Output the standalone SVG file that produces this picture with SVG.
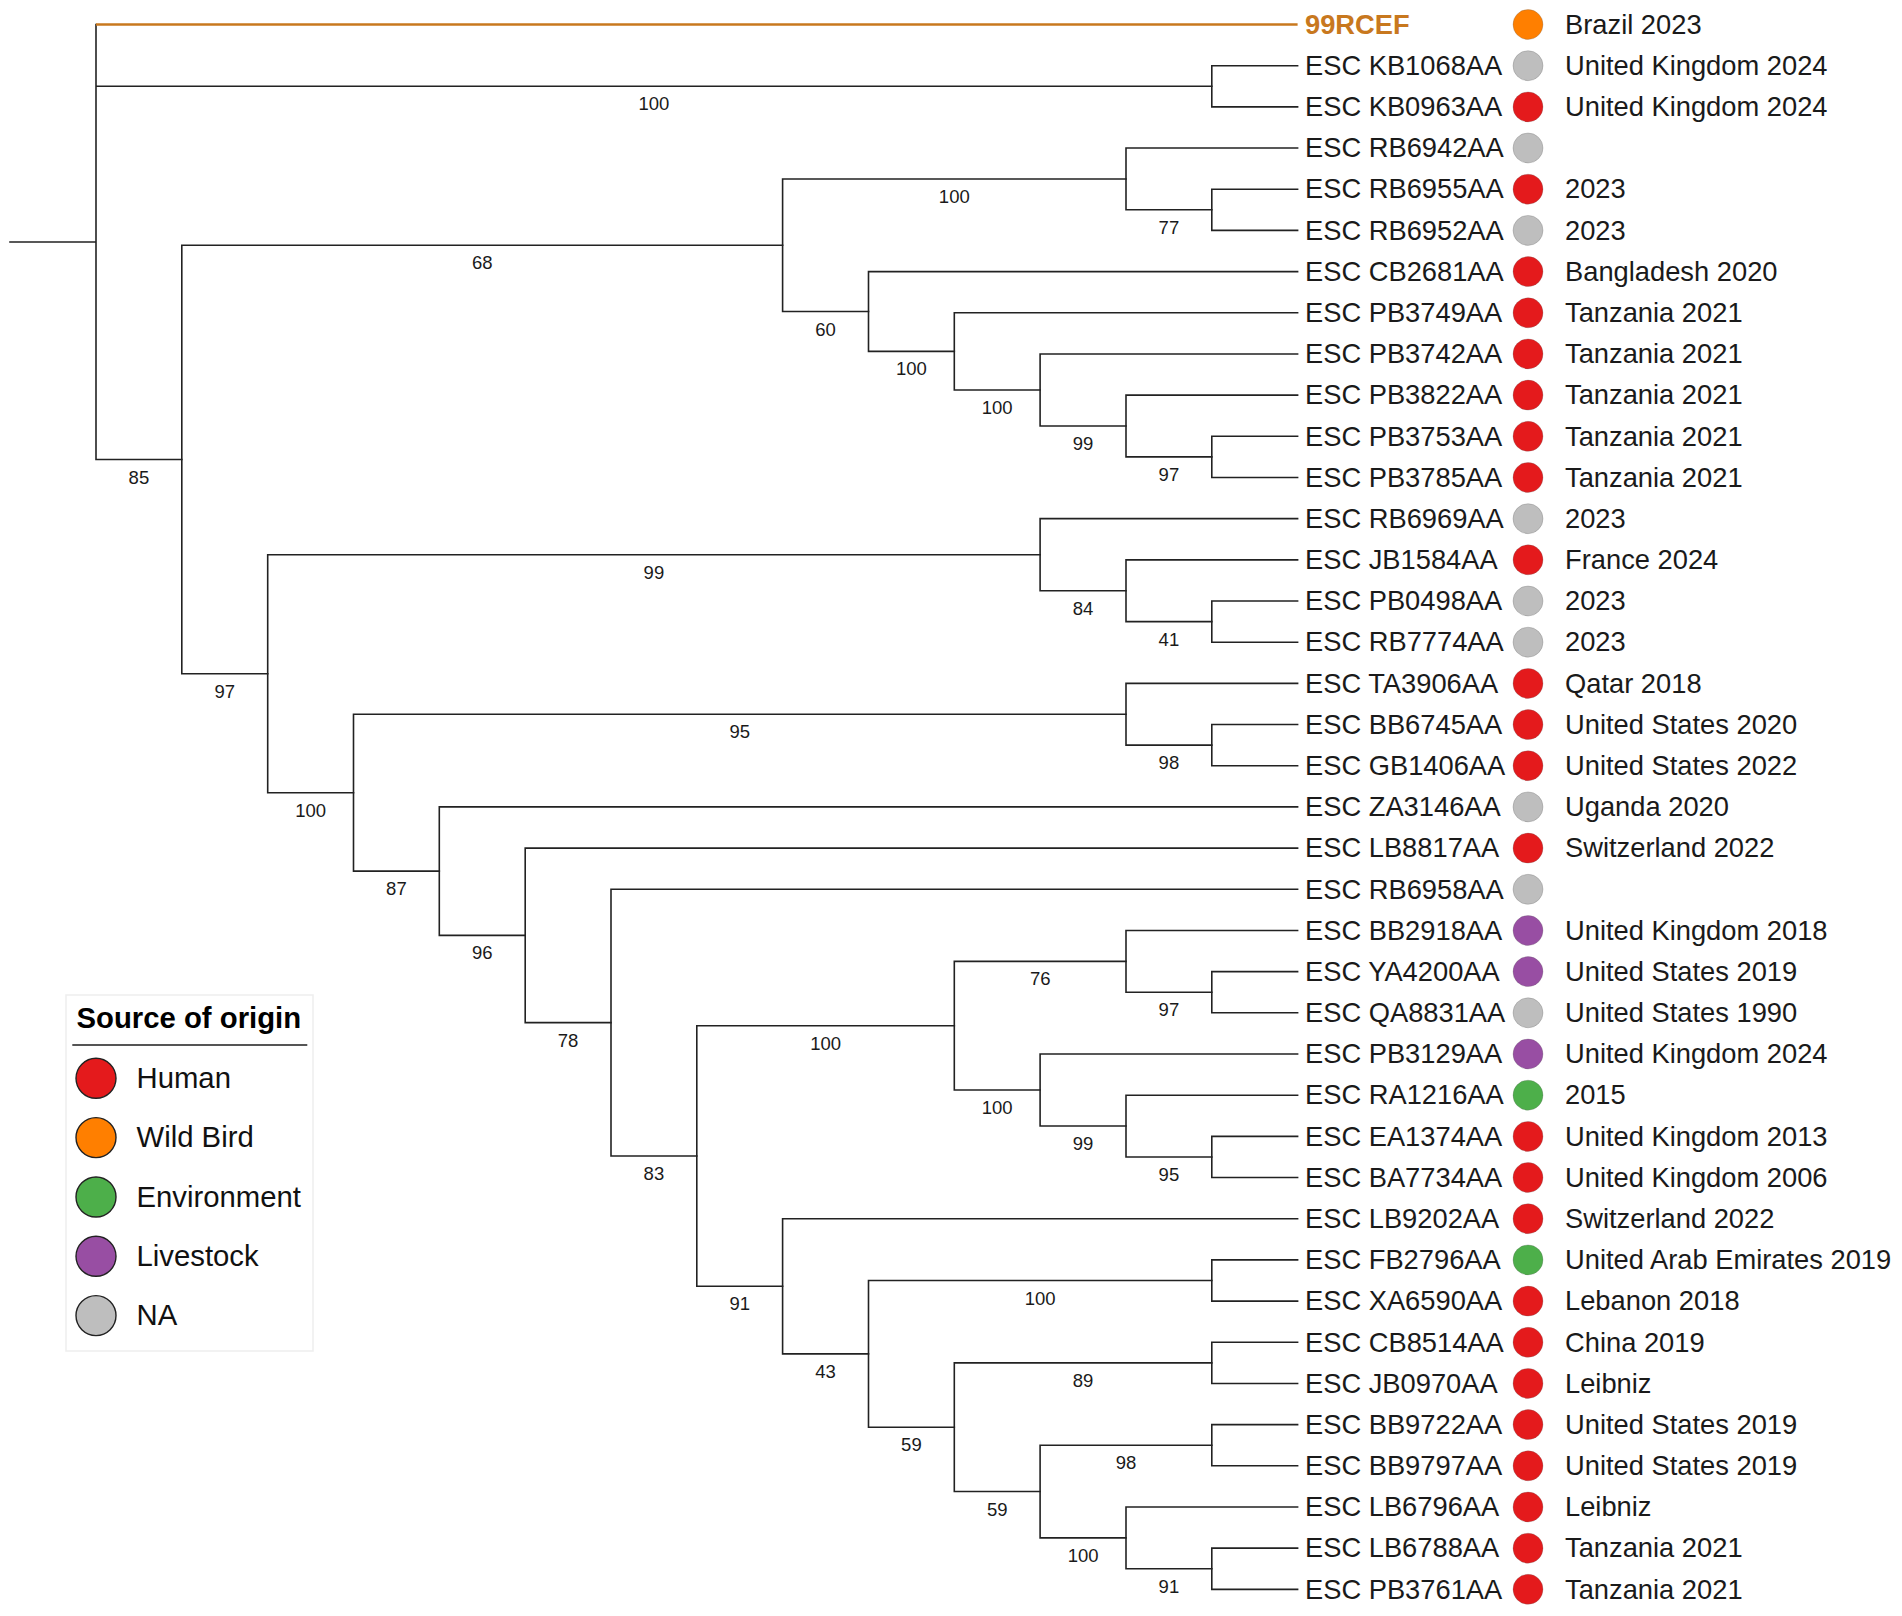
<svg xmlns="http://www.w3.org/2000/svg" width="1902" height="1616" viewBox="0 0 1902 1616">
<style>
.br{fill:none;stroke:#222;stroke-width:1.6;stroke-linecap:square}
.hl{fill:none;stroke:#C8781E;stroke-width:2.4}
.lf{font-family:"Liberation Sans",Arial,sans-serif;font-size:27.3px;fill:#1a1a1a}
.hi{font-family:"Liberation Sans",Arial,sans-serif;font-size:27.3px;font-weight:bold;fill:#C8781E}
.bs{font-family:"Liberation Sans",Arial,sans-serif;font-size:18.5px;fill:#1a1a1a;text-anchor:middle}
.lg{font-family:"Liberation Sans",Arial,sans-serif;font-size:29.3px;fill:#111}
.lt{font-family:"Liberation Sans",Arial,sans-serif;font-size:29.3px;font-weight:bold;fill:#000}
.hu{fill:#E41A1C}.wb{fill:#FF7F00}.en{fill:#4DAF4A}.li{fill:#984EA3}.na{fill:#BEBEBE}
.dot{stroke-width:0.8;stroke-opacity:0.35;stroke:#666}
.ld{stroke:#222;stroke-width:1.4}
.rw{transform:translateY(-0.8px)}
</style>
<rect width="1902" height="1616" fill="#fff"/>
<g id="connectors">
<path class="br" d="M10 242 H96 M96 24.5 V459.45 M96 86.27 H1211.8 M96 459.45 H181.8"/>
<path class="hl" d="M96 24.5 H1297.6"/>
<path class="br" d="M1297.6 65.68 H1211.8 V106.86 H1297.6"/>
<path class="br" d="M782.6 245.2 H181.8 V673.7 H267.7"/>
<path class="br" d="M1126 178.93 H782.6 V311.47 H868.5"/>
<path class="br" d="M1297.6 148.04 H1126 V209.81 H1211.8"/>
<path class="br" d="M1297.6 189.22 H1211.8 V230.4 H1297.6"/>
<path class="br" d="M1297.6 271.58 H868.5 V351.37 H954.3"/>
<path class="br" d="M1297.6 312.76 H954.3 V389.97 H1040.1"/>
<path class="br" d="M1297.6 353.94 H1040.1 V426 H1126"/>
<path class="br" d="M1297.6 395.12 H1126 V456.89 H1211.8"/>
<path class="br" d="M1297.6 436.3 H1211.8 V477.48 H1297.6"/>
<path class="br" d="M1040.1 554.69 H267.7 V792.7 H353.5"/>
<path class="br" d="M1297.6 518.66 H1040.1 V590.73 H1126"/>
<path class="br" d="M1297.6 559.84 H1126 V621.61 H1211.8"/>
<path class="br" d="M1297.6 601.02 H1211.8 V642.2 H1297.6"/>
<path class="br" d="M1126 714.26 H353.5 V871.14 H439.3"/>
<path class="br" d="M1297.6 683.38 H1126 V745.15 H1211.8"/>
<path class="br" d="M1297.6 724.56 H1211.8 V765.74 H1297.6"/>
<path class="br" d="M1297.6 806.92 H439.3 V935.37 H525.2"/>
<path class="br" d="M1297.6 848.1 H525.2 V1022.63 H611"/>
<path class="br" d="M1297.6 889.28 H611 V1155.99 H696.8"/>
<path class="br" d="M954.3 1025.69 H696.8 V1286.28 H782.6"/>
<path class="br" d="M1126 961.35 H954.3 V1090.03 H1040.1"/>
<path class="br" d="M1297.6 930.46 H1126 V992.23 H1211.8"/>
<path class="br" d="M1297.6 971.64 H1211.8 V1012.82 H1297.6"/>
<path class="br" d="M1297.6 1054 H1040.1 V1126.07 H1126"/>
<path class="br" d="M1297.6 1095.18 H1126 V1156.95 H1211.8"/>
<path class="br" d="M1297.6 1136.36 H1211.8 V1177.54 H1297.6"/>
<path class="br" d="M1297.6 1218.72 H782.6 V1353.84 H868.5"/>
<path class="br" d="M1211.8 1280.49 H868.5 V1427.2 H954.3"/>
<path class="br" d="M1297.6 1259.9 H1211.8 V1301.08 H1297.6"/>
<path class="br" d="M1211.8 1362.85 H954.3 V1491.54 H1040.1"/>
<path class="br" d="M1297.6 1342.26 H1211.8 V1383.44 H1297.6"/>
<path class="br" d="M1211.8 1445.21 H1040.1 V1537.87 H1126"/>
<path class="br" d="M1297.6 1424.62 H1211.8 V1465.8 H1297.6"/>
<path class="br" d="M1297.6 1506.98 H1126 V1568.75 H1211.8"/>
<path class="br" d="M1297.6 1548.16 H1211.8 V1589.34 H1297.6"/>
</g>
<g id="support-values">
<text class="bs" x="653.9" y="110.3">100</text>
<text class="bs" x="138.9" y="483.5">85</text>
<text class="bs" x="482.2" y="269.2">68</text>
<text class="bs" x="954.3" y="202.9">100</text>
<text class="bs" x="1168.9" y="233.8">77</text>
<text class="bs" x="825.6" y="335.5">60</text>
<text class="bs" x="911.4" y="375.4">100</text>
<text class="bs" x="997.2" y="414">100</text>
<text class="bs" x="1083.1" y="450">99</text>
<text class="bs" x="1168.9" y="480.9">97</text>
<text class="bs" x="224.8" y="697.7">97</text>
<text class="bs" x="653.9" y="578.7">99</text>
<text class="bs" x="1083.1" y="614.7">84</text>
<text class="bs" x="1168.9" y="645.6">41</text>
<text class="bs" x="310.6" y="816.7">100</text>
<text class="bs" x="739.8" y="738.3">95</text>
<text class="bs" x="1168.9" y="769.2">98</text>
<text class="bs" x="396.4" y="895.1">87</text>
<text class="bs" x="482.3" y="959.4">96</text>
<text class="bs" x="568.1" y="1046.6">78</text>
<text class="bs" x="653.9" y="1180">83</text>
<text class="bs" x="825.6" y="1049.7">100</text>
<text class="bs" x="1040.2" y="985.4">76</text>
<text class="bs" x="1168.9" y="1016.2">97</text>
<text class="bs" x="997.2" y="1114">100</text>
<text class="bs" x="1083.1" y="1150.1">99</text>
<text class="bs" x="1168.9" y="1181">95</text>
<text class="bs" x="739.7" y="1310.3">91</text>
<text class="bs" x="825.6" y="1377.8">43</text>
<text class="bs" x="1040.2" y="1304.5">100</text>
<text class="bs" x="911.4" y="1451.2">59</text>
<text class="bs" x="1083.1" y="1386.9">89</text>
<text class="bs" x="997.2" y="1515.5">59</text>
<text class="bs" x="1126" y="1469.2">98</text>
<text class="bs" x="1083.1" y="1561.9">100</text>
<text class="bs" x="1168.9" y="1592.8">91</text>
</g>
<g id="leaf-99RCEF"><text class="hi" x="1305" y="33.7">99RCEF</text><circle class="wb dot" cx="1528" cy="24.5" r="15"/><text class="lf" x="1565" y="33.7">Brazil 2023</text></g>
<g id="leaf-KB1068AA"><text class="lf" x="1305" y="74.9">ESC KB1068AA</text><circle class="na dot" cx="1528" cy="65.7" r="15"/><text class="lf" x="1565" y="74.9">United Kingdom 2024</text></g>
<g id="leaf-KB0963AA"><text class="lf" x="1305" y="116.1">ESC KB0963AA</text><circle class="hu dot" cx="1528" cy="106.9" r="15"/><text class="lf" x="1565" y="116.1">United Kingdom 2024</text></g>
<g id="leaf-RB6942AA"><text class="lf" x="1305" y="157.2">ESC RB6942AA</text><circle class="na dot" cx="1528" cy="148" r="15"/></g>
<g id="leaf-RB6955AA"><text class="lf" x="1305" y="198.4">ESC RB6955AA</text><circle class="hu dot" cx="1528" cy="189.2" r="15"/><text class="lf" x="1565" y="198.4">2023</text></g>
<g id="leaf-RB6952AA"><text class="lf" x="1305" y="239.6">ESC RB6952AA</text><circle class="na dot" cx="1528" cy="230.4" r="15"/><text class="lf" x="1565" y="239.6">2023</text></g>
<g id="leaf-CB2681AA"><text class="lf" x="1305" y="280.8">ESC CB2681AA</text><circle class="hu dot" cx="1528" cy="271.6" r="15"/><text class="lf" x="1565" y="280.8">Bangladesh 2020</text></g>
<g id="leaf-PB3749AA"><text class="lf" x="1305" y="322">ESC PB3749AA</text><circle class="hu dot" cx="1528" cy="312.8" r="15"/><text class="lf" x="1565" y="322">Tanzania 2021</text></g>
<g id="leaf-PB3742AA"><text class="lf" x="1305" y="363.1">ESC PB3742AA</text><circle class="hu dot" cx="1528" cy="353.9" r="15"/><text class="lf" x="1565" y="363.1">Tanzania 2021</text></g>
<g id="leaf-PB3822AA"><text class="lf" x="1305" y="404.3">ESC PB3822AA</text><circle class="hu dot" cx="1528" cy="395.1" r="15"/><text class="lf" x="1565" y="404.3">Tanzania 2021</text></g>
<g id="leaf-PB3753AA"><text class="lf" x="1305" y="445.5">ESC PB3753AA</text><circle class="hu dot" cx="1528" cy="436.3" r="15"/><text class="lf" x="1565" y="445.5">Tanzania 2021</text></g>
<g id="leaf-PB3785AA"><text class="lf" x="1305" y="486.7">ESC PB3785AA</text><circle class="hu dot" cx="1528" cy="477.5" r="15"/><text class="lf" x="1565" y="486.7">Tanzania 2021</text></g>
<g id="leaf-RB6969AA"><text class="lf" x="1305" y="527.9">ESC RB6969AA</text><circle class="na dot" cx="1528" cy="518.7" r="15"/><text class="lf" x="1565" y="527.9">2023</text></g>
<g id="leaf-JB1584AA"><text class="lf" x="1305" y="569">ESC JB1584AA</text><circle class="hu dot" cx="1528" cy="559.8" r="15"/><text class="lf" x="1565" y="569">France 2024</text></g>
<g id="leaf-PB0498AA"><text class="lf" x="1305" y="610.2">ESC PB0498AA</text><circle class="na dot" cx="1528" cy="601" r="15"/><text class="lf" x="1565" y="610.2">2023</text></g>
<g id="leaf-RB7774AA"><text class="lf" x="1305" y="651.4">ESC RB7774AA</text><circle class="na dot" cx="1528" cy="642.2" r="15"/><text class="lf" x="1565" y="651.4">2023</text></g>
<g id="leaf-TA3906AA"><text class="lf" x="1305" y="692.6">ESC TA3906AA</text><circle class="hu dot" cx="1528" cy="683.4" r="15"/><text class="lf" x="1565" y="692.6">Qatar 2018</text></g>
<g id="leaf-BB6745AA"><text class="lf" x="1305" y="733.8">ESC BB6745AA</text><circle class="hu dot" cx="1528" cy="724.6" r="15"/><text class="lf" x="1565" y="733.8">United States 2020</text></g>
<g id="leaf-GB1406AA"><text class="lf" x="1305" y="774.9">ESC GB1406AA</text><circle class="hu dot" cx="1528" cy="765.7" r="15"/><text class="lf" x="1565" y="774.9">United States 2022</text></g>
<g id="leaf-ZA3146AA"><text class="lf" x="1305" y="816.1">ESC ZA3146AA</text><circle class="na dot" cx="1528" cy="806.9" r="15"/><text class="lf" x="1565" y="816.1">Uganda 2020</text></g>
<g id="leaf-LB8817AA"><text class="lf" x="1305" y="857.3">ESC LB8817AA</text><circle class="hu dot" cx="1528" cy="848.1" r="15"/><text class="lf" x="1565" y="857.3">Switzerland 2022</text></g>
<g id="leaf-RB6958AA"><text class="lf" x="1305" y="898.5">ESC RB6958AA</text><circle class="na dot" cx="1528" cy="889.3" r="15"/></g>
<g id="leaf-BB2918AA"><text class="lf" x="1305" y="939.7">ESC BB2918AA</text><circle class="li dot" cx="1528" cy="930.5" r="15"/><text class="lf" x="1565" y="939.7">United Kingdom 2018</text></g>
<g id="leaf-YA4200AA"><text class="lf" x="1305" y="980.8">ESC YA4200AA</text><circle class="li dot" cx="1528" cy="971.6" r="15"/><text class="lf" x="1565" y="980.8">United States 2019</text></g>
<g id="leaf-QA8831AA"><text class="lf" x="1305" y="1022">ESC QA8831AA</text><circle class="na dot" cx="1528" cy="1012.8" r="15"/><text class="lf" x="1565" y="1022">United States 1990</text></g>
<g id="leaf-PB3129AA"><text class="lf" x="1305" y="1063.2">ESC PB3129AA</text><circle class="li dot" cx="1528" cy="1054" r="15"/><text class="lf" x="1565" y="1063.2">United Kingdom 2024</text></g>
<g id="leaf-RA1216AA"><text class="lf" x="1305" y="1104.4">ESC RA1216AA</text><circle class="en dot" cx="1528" cy="1095.2" r="15"/><text class="lf" x="1565" y="1104.4">2015</text></g>
<g id="leaf-EA1374AA"><text class="lf" x="1305" y="1145.6">ESC EA1374AA</text><circle class="hu dot" cx="1528" cy="1136.4" r="15"/><text class="lf" x="1565" y="1145.6">United Kingdom 2013</text></g>
<g id="leaf-BA7734AA"><text class="lf" x="1305" y="1186.7">ESC BA7734AA</text><circle class="hu dot" cx="1528" cy="1177.5" r="15"/><text class="lf" x="1565" y="1186.7">United Kingdom 2006</text></g>
<g id="leaf-LB9202AA"><text class="lf" x="1305" y="1227.9">ESC LB9202AA</text><circle class="hu dot" cx="1528" cy="1218.7" r="15"/><text class="lf" x="1565" y="1227.9">Switzerland 2022</text></g>
<g id="leaf-FB2796AA"><text class="lf" x="1305" y="1269.1">ESC FB2796AA</text><circle class="en dot" cx="1528" cy="1259.9" r="15"/><text class="lf" x="1565" y="1269.1">United Arab Emirates 2019</text></g>
<g id="leaf-XA6590AA"><text class="lf" x="1305" y="1310.3">ESC XA6590AA</text><circle class="hu dot" cx="1528" cy="1301.1" r="15"/><text class="lf" x="1565" y="1310.3">Lebanon 2018</text></g>
<g id="leaf-CB8514AA"><text class="lf" x="1305" y="1351.5">ESC CB8514AA</text><circle class="hu dot" cx="1528" cy="1342.3" r="15"/><text class="lf" x="1565" y="1351.5">China 2019</text></g>
<g id="leaf-JB0970AA"><text class="lf" x="1305" y="1392.6">ESC JB0970AA</text><circle class="hu dot" cx="1528" cy="1383.4" r="15"/><text class="lf" x="1565" y="1392.6">Leibniz</text></g>
<g id="leaf-BB9722AA"><text class="lf" x="1305" y="1433.8">ESC BB9722AA</text><circle class="hu dot" cx="1528" cy="1424.6" r="15"/><text class="lf" x="1565" y="1433.8">United States 2019</text></g>
<g id="leaf-BB9797AA"><text class="lf" x="1305" y="1475">ESC BB9797AA</text><circle class="hu dot" cx="1528" cy="1465.8" r="15"/><text class="lf" x="1565" y="1475">United States 2019</text></g>
<g id="leaf-LB6796AA"><text class="lf" x="1305" y="1516.2">ESC LB6796AA</text><circle class="hu dot" cx="1528" cy="1507" r="15"/><text class="lf" x="1565" y="1516.2">Leibniz</text></g>
<g id="leaf-LB6788AA"><text class="lf" x="1305" y="1557.4">ESC LB6788AA</text><circle class="hu dot" cx="1528" cy="1548.2" r="15"/><text class="lf" x="1565" y="1557.4">Tanzania 2021</text></g>
<g id="leaf-PB3761AA"><text class="lf" x="1305" y="1598.5">ESC PB3761AA</text><circle class="hu dot" cx="1528" cy="1589.3" r="15"/><text class="lf" x="1565" y="1598.5">Tanzania 2021</text></g>
<g id="legend">
<rect x="66" y="995" width="247" height="356" fill="#fff" stroke="#eeeeee" stroke-width="1.5"/>
<text class="lt" x="76.5" y="1028">Source of origin</text>
<line x1="72.3" y1="1045" x2="307.3" y2="1045" stroke="#555" stroke-width="1.8"/>
<circle class="hu ld" cx="96" cy="1078.3" r="20"/><text class="lg" x="136.5" y="1088">Human</text>
<circle class="wb ld" cx="96" cy="1137.6" r="20"/><text class="lg" x="136.5" y="1147.3">Wild Bird</text>
<circle class="en ld" cx="96" cy="1197" r="20"/><text class="lg" x="136.5" y="1206.7">Environment</text>
<circle class="li ld" cx="96" cy="1256.3" r="20"/><text class="lg" x="136.5" y="1266">Livestock</text>
<circle class="na ld" cx="96" cy="1315.6" r="20"/><text class="lg" x="136.5" y="1325.3">NA</text>
</g>
</svg>
